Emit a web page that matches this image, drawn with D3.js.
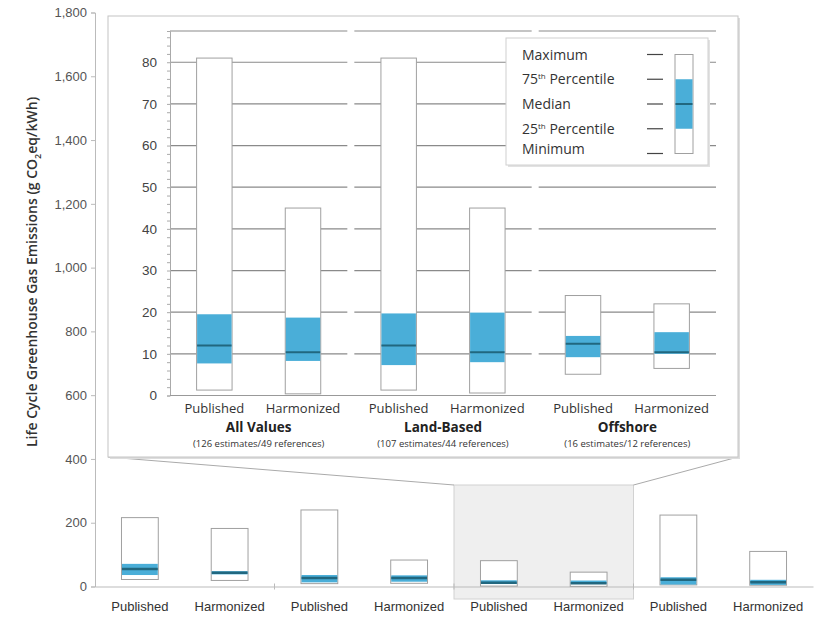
<!DOCTYPE html>
<html>
<head>
<meta charset="utf-8">
<script src="https://cdn.jsdelivr.net/npm/d3@7"></script>
<style>
  body { margin: 0; background: #fff; }
  svg { font-family: "Open Sans", sans-serif; }
  .tick text { fill: #555; }
</style>
</head>
<body>
<div id="chart"></div>
<script>
// outer chart: 4 technologies x published / harmonized (g CO2eq/kWh)
var outerCategories = ["Published", "Harmonized", "Published", "Harmonized",
                       "Published", "Harmonized", "Published", "Harmonized"];
var outerMax    = [216, 182, 240, 83, 81, 45, 224, 110];
var outerQ3     = [71, 48, 36, 35, 19.5, 18.7, 29, 21];
var outerMedian = [55, 43, 27, 27, 12, 10.4, 21, 13];
var outerQ1     = [36, 38, 13, 15, 7.7, 8.3, 6, 5];
var outerMin    = [22, 19, 9, 10, 1.3, 0.4, 5, 4];
var outerTicks  = [0, 200, 400, 600, 800, 1000, 1200, 1400, 1600, 1800];
var zoomedPair  = [4, 5];   // the wind boxes shown in the inset

// inset chart: wind
var insetGroups = ["All Values", "Land-Based", "Offshore"];
var insetNotes  = ["(126 estimates/49 references)", "(107 estimates/44 references)", "(16 estimates/12 references)"];
var insetTypes  = ["Published", "Harmonized"];
var insetMax    = [81, 45, 81, 45, 24, 22];
var insetQ3     = [19.5, 18.7, 19.7, 19.9, 14.3, 15.2];
var insetMedian = [12, 10.4, 12, 10.4, 12.4, 10.4];
var insetQ1     = [7.7, 8.3, 7.3, 8, 9.2, 10];
var insetMin    = [1.3, 0.4, 1.3, 0.6, 5.1, 6.5];
var insetTicks  = [0, 10, 20, 30, 40, 50, 60, 70, 80];

var legendLabels = ["Maximum", "75th Percentile", "Median", "25th Percentile", "Minimum"];

var blue = "#4aaed8", medianColor = "#21677f", boxStroke = "#a0a0a0";

var W = 817, H = 618;
var svg = d3.select("#chart").append("svg")
    .attr("width", W)
    .attr("height", H);

// ---------- outer chart ----------
var ox = d3.scaleBand()
    .domain(d3.range(outerCategories.length))
    .range([95, 813])
    .paddingInner(0.59)
    .paddingOuter(0.295);

var oy = d3.scaleLinear()
    .domain([0, 1800])
    .range([586.5, 12.5]);

// shaded region for the zoomed technology
var shadeX0 = ox(zoomedPair[0]) - ox.step() * ox.paddingOuter(),
    shadeX1 = ox(zoomedPair[1]) + ox.bandwidth() + ox.step() * ox.paddingOuter();
svg.append("rect")
    .attr("x", shadeX0)
    .attr("y", 485)
    .attr("width", shadeX1 - shadeX0)
    .attr("height", 114)
    .attr("fill", "#efefef")
    .attr("stroke", "#d2d2d2");

// y axis
var oyAxis = svg.append("g")
    .attr("transform", "translate(95,0)")
    .call(d3.axisLeft(oy)
        .tickValues(outerTicks)
        .tickSize(4)
        .tickPadding(4)
        .tickFormat(d3.format(",")));
oyAxis.selectAll("path, line").attr("stroke", "#bbb");
oyAxis.selectAll("text").attr("font-size", 13);

// x axis
var oxAxis = svg.append("g")
    .attr("transform", "translate(0," + oy(0) + ")")
    .call(d3.axisBottom(ox)
        .tickSize(0)
        .tickPadding(15)
        .tickFormat(function(i) { return outerCategories[i]; }));
oxAxis.select(".domain").attr("stroke", "#bbb");
oxAxis.selectAll("text").attr("font-size", 13).style("fill", "#333");

// group dividers on x axis
svg.selectAll(".odiv")
    .data([2, 4, 6])
    .enter().append("line")
    .attr("x1", function(i) { return ox(i) - ox.step() * ox.paddingOuter(); })
    .attr("x2", function(i) { return ox(i) - ox.step() * ox.paddingOuter(); })
    .attr("y1", oy(0) - 3)
    .attr("y2", oy(0) + 3)
    .attr("stroke", "#bbb");

function drawBoxes(g, xs, ys, n, mx, q3, md, q1, mn, bw, medW) {
    var idx = d3.range(n);
    g.selectAll(".whole").data(idx).enter().append("rect")
        .attr("x", function(i) { return xs(i); })
        .attr("y", function(i) { return ys(mx[i]); })
        .attr("width", bw)
        .attr("height", function(i) { return ys(mn[i]) - ys(mx[i]); })
        .attr("fill", "#fff")
        .attr("stroke", boxStroke)
        .attr("stroke-width", 1);
    g.selectAll(".iqr").data(idx).enter().append("rect")
        .attr("x", function(i) { return xs(i) + 0.5; })
        .attr("y", function(i) { return ys(q3[i]); })
        .attr("width", bw - 1)
        .attr("height", function(i) { return ys(q1[i]) - ys(q3[i]); })
        .attr("fill", blue);
    g.selectAll(".med").data(idx).enter().append("line")
        .attr("x1", function(i) { return xs(i) + 0.5; })
        .attr("x2", function(i) { return xs(i) + bw - 0.5; })
        .attr("y1", function(i) { return ys(md[i]); })
        .attr("y2", function(i) { return ys(md[i]); })
        .attr("stroke", medianColor)
        .attr("stroke-width", medW);
}

drawBoxes(svg.append("g"), ox, oy, outerCategories.length,
    outerMax, outerQ3, outerMedian, outerQ1, outerMin, ox.bandwidth(), 2.5);

// y axis title
var title = svg.append("text")
    .attr("transform", "translate(37,272) rotate(-90)")
    .attr("text-anchor", "middle")
    .attr("font-size", 14)
    .attr("font-weight", 600)
    .attr("fill", "#333")
    .text("Life Cycle Greenhouse Gas Emissions (g CO");
title.append("tspan").attr("dy", 4).attr("font-size", 9).text("2");
title.append("tspan").attr("dy", -4).text("eq/kWh)");

// ---------- inset panel ----------
var panel = {x: 108, y: 16, w: 630, h: 441};

// connector lines
svg.append("line")
    .attr("x1", panel.x).attr("y1", panel.y + panel.h)
    .attr("x2", shadeX0).attr("y2", 485)
    .attr("stroke", "#aaa");
svg.append("line")
    .attr("x1", panel.x + panel.w).attr("y1", panel.y + panel.h)
    .attr("x2", shadeX1).attr("y2", 485)
    .attr("stroke", "#aaa");

svg.append("rect")
    .attr("x", panel.x + 2).attr("y", panel.y + 2)
    .attr("width", panel.w).attr("height", panel.h)
    .attr("fill", "#ddd");
svg.append("rect")
    .attr("x", panel.x).attr("y", panel.y)
    .attr("width", panel.w).attr("height", panel.h)
    .attr("fill", "#fff")
    .attr("stroke", "#c4c4c4");

var gx = d3.scaleBand()
    .domain(insetGroups)
    .range([170, 716])
    .paddingInner(0.038);

var sx = d3.scaleBand()
    .domain(insetTypes)
    .range([0, gx.bandwidth()])
    .paddingInner(0.6)
    .paddingOuter(0.3);

var iy = d3.scaleLinear()
    .domain([0, 87.5])
    .range([395.5, 31]);

function boxX(i) {
    return gx(insetGroups[Math.floor(i / 2)]) + sx(insetTypes[i % 2]);
}

// grid segments, one run per group
var gridVals = insetTicks.slice(1).concat([87.5]);
insetGroups.forEach(function(gName) {
    svg.append("g").selectAll("line")
        .data(gridVals)
        .enter().append("line")
        .attr("x1", gx(gName))
        .attr("x2", gx(gName) + gx.bandwidth())
        .attr("y1", function(d) { return iy(d); })
        .attr("y2", function(d) { return iy(d); })
        .attr("stroke", "#8a8a8a")
        .attr("stroke-width", 1.2);
});

// inset y axis with minor ticks
var minor = svg.append("g")
    .attr("transform", "translate(170,0)")
    .call(d3.axisLeft(iy).tickValues(d3.range(0, 88, 2)).tickSize(3).tickFormat(""));
minor.selectAll("path, line").attr("stroke", "#aaa");

var iyAxis = svg.append("g")
    .attr("transform", "translate(170,0)")
    .call(d3.axisLeft(iy).tickValues(insetTicks).tickSize(0).tickPadding(13));
iyAxis.select(".domain").remove();
iyAxis.selectAll("text").attr("font-size", 13.5).style("fill", "#444");

// inset x axis line
svg.append("line")
    .attr("x1", 170).attr("x2", 716)
    .attr("y1", iy(0)).attr("y2", iy(0))
    .attr("stroke", "#999");

drawBoxes(svg.append("g"), boxX, iy, insetMax.length,
    insetMax, insetQ3, insetMedian, insetQ1, insetMin, sx.bandwidth(), 2);

// inset labels
svg.append("g").selectAll("text")
    .data(d3.range(insetMax.length))
    .enter().append("text")
    .attr("x", function(i) { return boxX(i) + sx.bandwidth() / 2; })
    .attr("y", 413)
    .attr("text-anchor", "middle")
    .attr("font-size", 13)
    .attr("fill", "#333")
    .text(function(i) { return insetTypes[i % 2]; });

svg.append("g").selectAll("text")
    .data(insetGroups)
    .enter().append("text")
    .attr("x", function(d) { return gx(d) + gx.bandwidth() / 2; })
    .attr("y", 432)
    .attr("text-anchor", "middle")
    .attr("font-size", 13.5)
    .attr("font-weight", 700)
    .attr("fill", "#222")
    .text(function(d) { return d; });

svg.append("g").selectAll("text")
    .data(insetNotes)
    .enter().append("text")
    .attr("x", function(d, i) { return gx(insetGroups[i]) + gx.bandwidth() / 2; })
    .attr("y", 447)
    .attr("text-anchor", "middle")
    .attr("font-size", 9.5)
    .attr("fill", "#333")
    .text(function(d) { return d; });

// ---------- legend ----------
var lg = svg.append("g");
lg.append("rect")
    .attr("x", 508).attr("y", 40)
    .attr("width", 202).attr("height", 127)
    .attr("fill", "#e2e2e2");
lg.append("rect")
    .attr("x", 506).attr("y", 38)
    .attr("width", 202).attr("height", 127)
    .attr("fill", "#fff")
    .attr("stroke", "#d0d0d0");

var ly = d3.scalePoint()
    .domain(legendLabels)
    .range([54.5, 153.5]);

legendLabels.forEach(function(lab, i) {
    var t = lg.append("text")
        .attr("x", 522)
        .attr("y", ly(lab) + (i === 4 ? 0 : 5))
        .attr("font-size", 14)
        .attr("fill", "#333");
    var m = lab.match(/^(\d+)th (.*)$/);
    if (m) {
        t.append("tspan").text(m[1]);
        t.append("tspan").attr("dy", -5).attr("font-size", 8).text("th");
        t.append("tspan").attr("dy", 5).text(" " + m[2]);
    } else {
        t.text(lab);
    }
    lg.append("line")
        .attr("x1", 647).attr("x2", 663)
        .attr("y1", ly(lab)).attr("y2", ly(lab))
        .attr("stroke", "#444")
        .attr("stroke-width", 1.2);
});

lg.append("rect")
    .attr("x", 675).attr("y", ly("Maximum"))
    .attr("width", 18).attr("height", ly("Minimum") - ly("Maximum"))
    .attr("fill", "#fff").attr("stroke", boxStroke);
lg.append("rect")
    .attr("x", 675.5).attr("y", ly("75th Percentile"))
    .attr("width", 17).attr("height", ly("25th Percentile") - ly("75th Percentile"))
    .attr("fill", blue);
lg.append("line")
    .attr("x1", 675.5).attr("x2", 692.5)
    .attr("y1", ly("Median")).attr("y2", ly("Median"))
    .attr("stroke", medianColor).attr("stroke-width", 2);
</script>
</body>
</html>
